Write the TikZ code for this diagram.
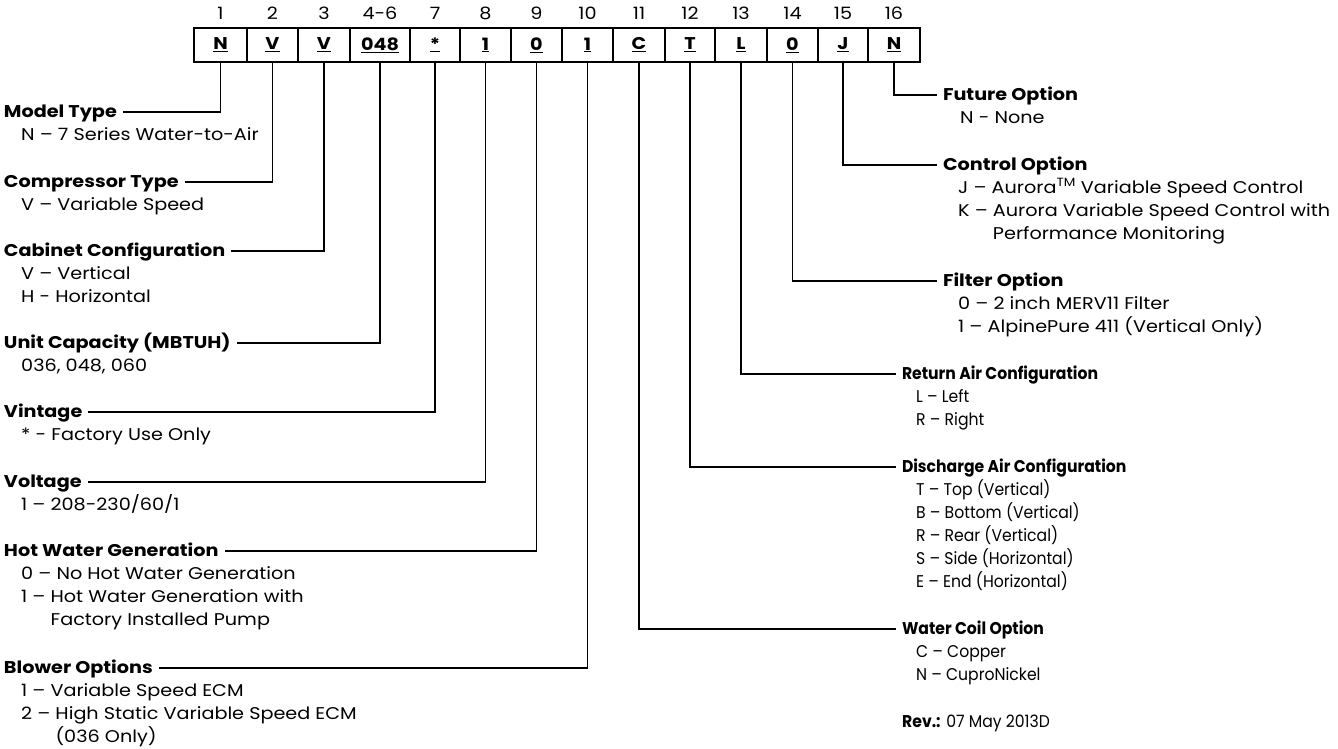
\documentclass[tikz,border=0pt]{standalone}
\usepackage{fontspec}
\setmainfont{Poppins}[FakeStretch=1.13]
\newfontfamily\narrowfont{Poppins}[FakeStretch=0.92,Ligatures=TeX]
\newcommand{\txtfont}{\fontsize{17}{23}\selectfont}
\newcommand{\nartxt}{\narrowfont\fontsize{17}{23}\selectfont}
\newcommand{\cd}[1]{\underline{#1}}
\tikzset{
  codebox/.style={draw, line width=1.8pt, minimum height=34pt, inner sep=0pt,
    font=\fontsize{17}{20}\selectfont\bfseries},
  num/.style={inner sep=0pt, font=\fontsize{17}{20}\selectfont},
  head/.style={anchor=west, inner xsep=0pt, inner ysep=0pt, outer xsep=6pt, outer ysep=0pt,
    text height=12pt, text depth=1pt, font=\txtfont\bfseries},
  headn/.style={head, font=\nartxt\bfseries},
  subs/.style={anchor=base west, inner sep=0pt, font=\txtfont},
  subsn/.style={subs, font=\nartxt},
  conn/.style={line width=1.8pt},
}
\begin{document}
\begin{tikzpicture}[x=1pt,y=-1pt]
\useasboundingbox (0,0) rectangle (1338,748);
% code boxes
\node[codebox, minimum width=53pt] (b1)  at (220.5,45) {\cd{N}};
\node[codebox, minimum width=51pt] (b2)  at (272.5,45) {\cd{V}};
\node[codebox, minimum width=52pt] (b3)  at (324,45)   {\cd{V}};
\node[codebox, minimum width=60pt] (b4)  at (380,45)   {\cd{048}};
\node[codebox, minimum width=50pt] (b7)  at (435,45)   {\cd{*}};
\node[codebox, minimum width=51pt] (b8)  at (485.5,45) {\cd{1}};
\node[codebox, minimum width=51pt] (b9)  at (536.5,45) {\cd{0}};
\node[codebox, minimum width=51pt] (b10) at (587.5,45) {\cd{1}};
\node[codebox, minimum width=52pt] (b11) at (639,45)   {\cd{C}};
\node[codebox, minimum width=50pt] (b12) at (690,45)   {\cd{T}};
\node[codebox, minimum width=52pt] (b13) at (741,45)   {\cd{L}};
\node[codebox, minimum width=51pt] (b14) at (792.5,45) {\cd{0}};
\node[codebox, minimum width=50pt] (b15) at (843,45)   {\cd{J}};
\node[codebox, minimum width=52pt] (b16) at (894,45)   {\cd{N}};
% position numbers
\node[num] (n1)  at (220.5,13) {1};
\node[num] (n2)  at (272.5,13) {2};
\node[num] (n3)  at (324,13)   {3};
\node[num] (n4)  at (380,13)   {4-6};
\node[num] (n7)  at (435,13)   {7};
\node[num] (n8)  at (485.5,13) {8};
\node[num] (n9)  at (536.5,13) {9};
\node[num] (n10) at (587.5,13) {10};
\node[num] (n11) at (639,13)   {11};
\node[num] (n12) at (690,13)   {12};
\node[num] (n13) at (741,13)   {13};
\node[num] (n14) at (792.5,13) {14};
\node[num] (n15) at (843,13)   {15};
\node[num] (n16) at (894,13)   {16};
% left headings
\node[head] (h1)  at (-2,112) {Model Type};
\node[subs] (s1)  at (21,140) {\begin{tabular}[t]{@{}l@{}}N -- 7 Series Water-to-Air\end{tabular}};
\node[head] (h2)  at (-2,182) {Compressor Type};
\node[subs] (s2)  at (21,210) {\begin{tabular}[t]{@{}l@{}}V -- Variable Speed\end{tabular}};
\node[head] (h3)  at (-2,251) {Cabinet Configuration};
\node[subs] (s3)  at (21,279) {\begin{tabular}[t]{@{}l@{}}V -- Vertical\\H - Horizontal\end{tabular}};
\node[head] (h4)  at (-2,343) {Unit Capacity (MBTUH)};
\node[subs] (s4)  at (21,371) {\begin{tabular}[t]{@{}l@{}}036, 048, 060\end{tabular}};
\node[head] (h7)  at (-2,412) {Vintage};
\node[subs] (s7)  at (21,440) {\begin{tabular}[t]{@{}l@{}}* - Factory Use Only\end{tabular}};
\node[head] (h8)  at (-2,482) {Voltage};
\node[subs] (s8)  at (21,510) {\begin{tabular}[t]{@{}l@{}}1 -- 208-230/60/1\end{tabular}};
\node[head] (h9)  at (-2,551) {Hot Water Generation};
\node[subs] (s9)  at (21,579) {\begin{tabular}[t]{@{}l@{}}0 -- No Hot Water Generation\\1 -- Hot Water Generation with\\\phantom{1 -- }Factory Installed Pump\end{tabular}};
\node[head] (h10) at (-2,668) {Blower Options};
\node[subs] (s10) at (21,696) {\begin{tabular}[t]{@{}l@{}}1 -- Variable Speed ECM\\2 -- High Static Variable Speed ECM\\\phantom{2 -- }(036 Only)\end{tabular}};
% right headings (upper group)
\node[head] (h16) at (937,95) {Future Option};
\node[subs] (s16) at (960,123) {\begin{tabular}[t]{@{}l@{}}N - None\end{tabular}};
\node[head] (h15) at (937,165) {Control Option};
\node[subs] (s15) at (958,193) {\begin{tabular}[t]{@{}l@{}}J -- Aurora\textsuperscript{TM} Variable Speed Control\\K -- Aurora Variable Speed Control with\\\phantom{K -- }Performance Monitoring\end{tabular}};
\node[head] (h14) at (937,281) {Filter Option};
\node[subs] (s14) at (958,309) {\begin{tabular}[t]{@{}l@{}}0 -- 2 inch MERV11 Filter\\1 -- AlpinePure 411 (Vertical Only)\end{tabular}};
% right headings (lower group)
\node[headn] (h13) at (896,374) {Return Air Configuration};
\node[subsn] (s13) at (916,402) {\begin{tabular}[t]{@{}l@{}}L -- Left\\R -- Right\end{tabular}};
\node[headn] (h12) at (896,467) {Discharge Air Configuration};
\node[subsn] (s12) at (916,495) {\begin{tabular}[t]{@{}l@{}}T -- Top (Vertical)\\B -- Bottom (Vertical)\\R -- Rear (Vertical)\\S -- Side (Horizontal)\\E -- End (Horizontal)\end{tabular}};
\node[headn] (h11) at (896,629) {Water Coil Option};
\node[subsn] (s11) at (916,657) {\begin{tabular}[t]{@{}l@{}}C -- Copper\\N -- CuproNickel\end{tabular}};
\node[subsn] (rev) at (902,727) {\textbf{Rev.:} 07 May 2013D};
% connectors
\draw[conn] (b1.south)  |- (h1.east);
\draw[conn] (b2.south)  |- (h2.east);
\draw[conn] (b3.south)  |- (h3.east);
\draw[conn] (b4.south)  |- (h4.east);
\draw[conn] (b7.south)  |- (h7.east);
\draw[conn] (b8.south)  |- (h8.east);
\draw[conn] (b9.south)  |- (h9.east);
\draw[conn] (b10.south) |- (h10.east);
\draw[conn] (b11.south) |- (h11.west);
\draw[conn] (b12.south) |- (h12.west);
\draw[conn] (b13.south) |- (h13.west);
\draw[conn] (b14.south) |- (h14.west);
\draw[conn] (b15.south) |- (h15.west);
\draw[conn] (b16.south) |- (h16.west);
\end{tikzpicture}
\end{document}
